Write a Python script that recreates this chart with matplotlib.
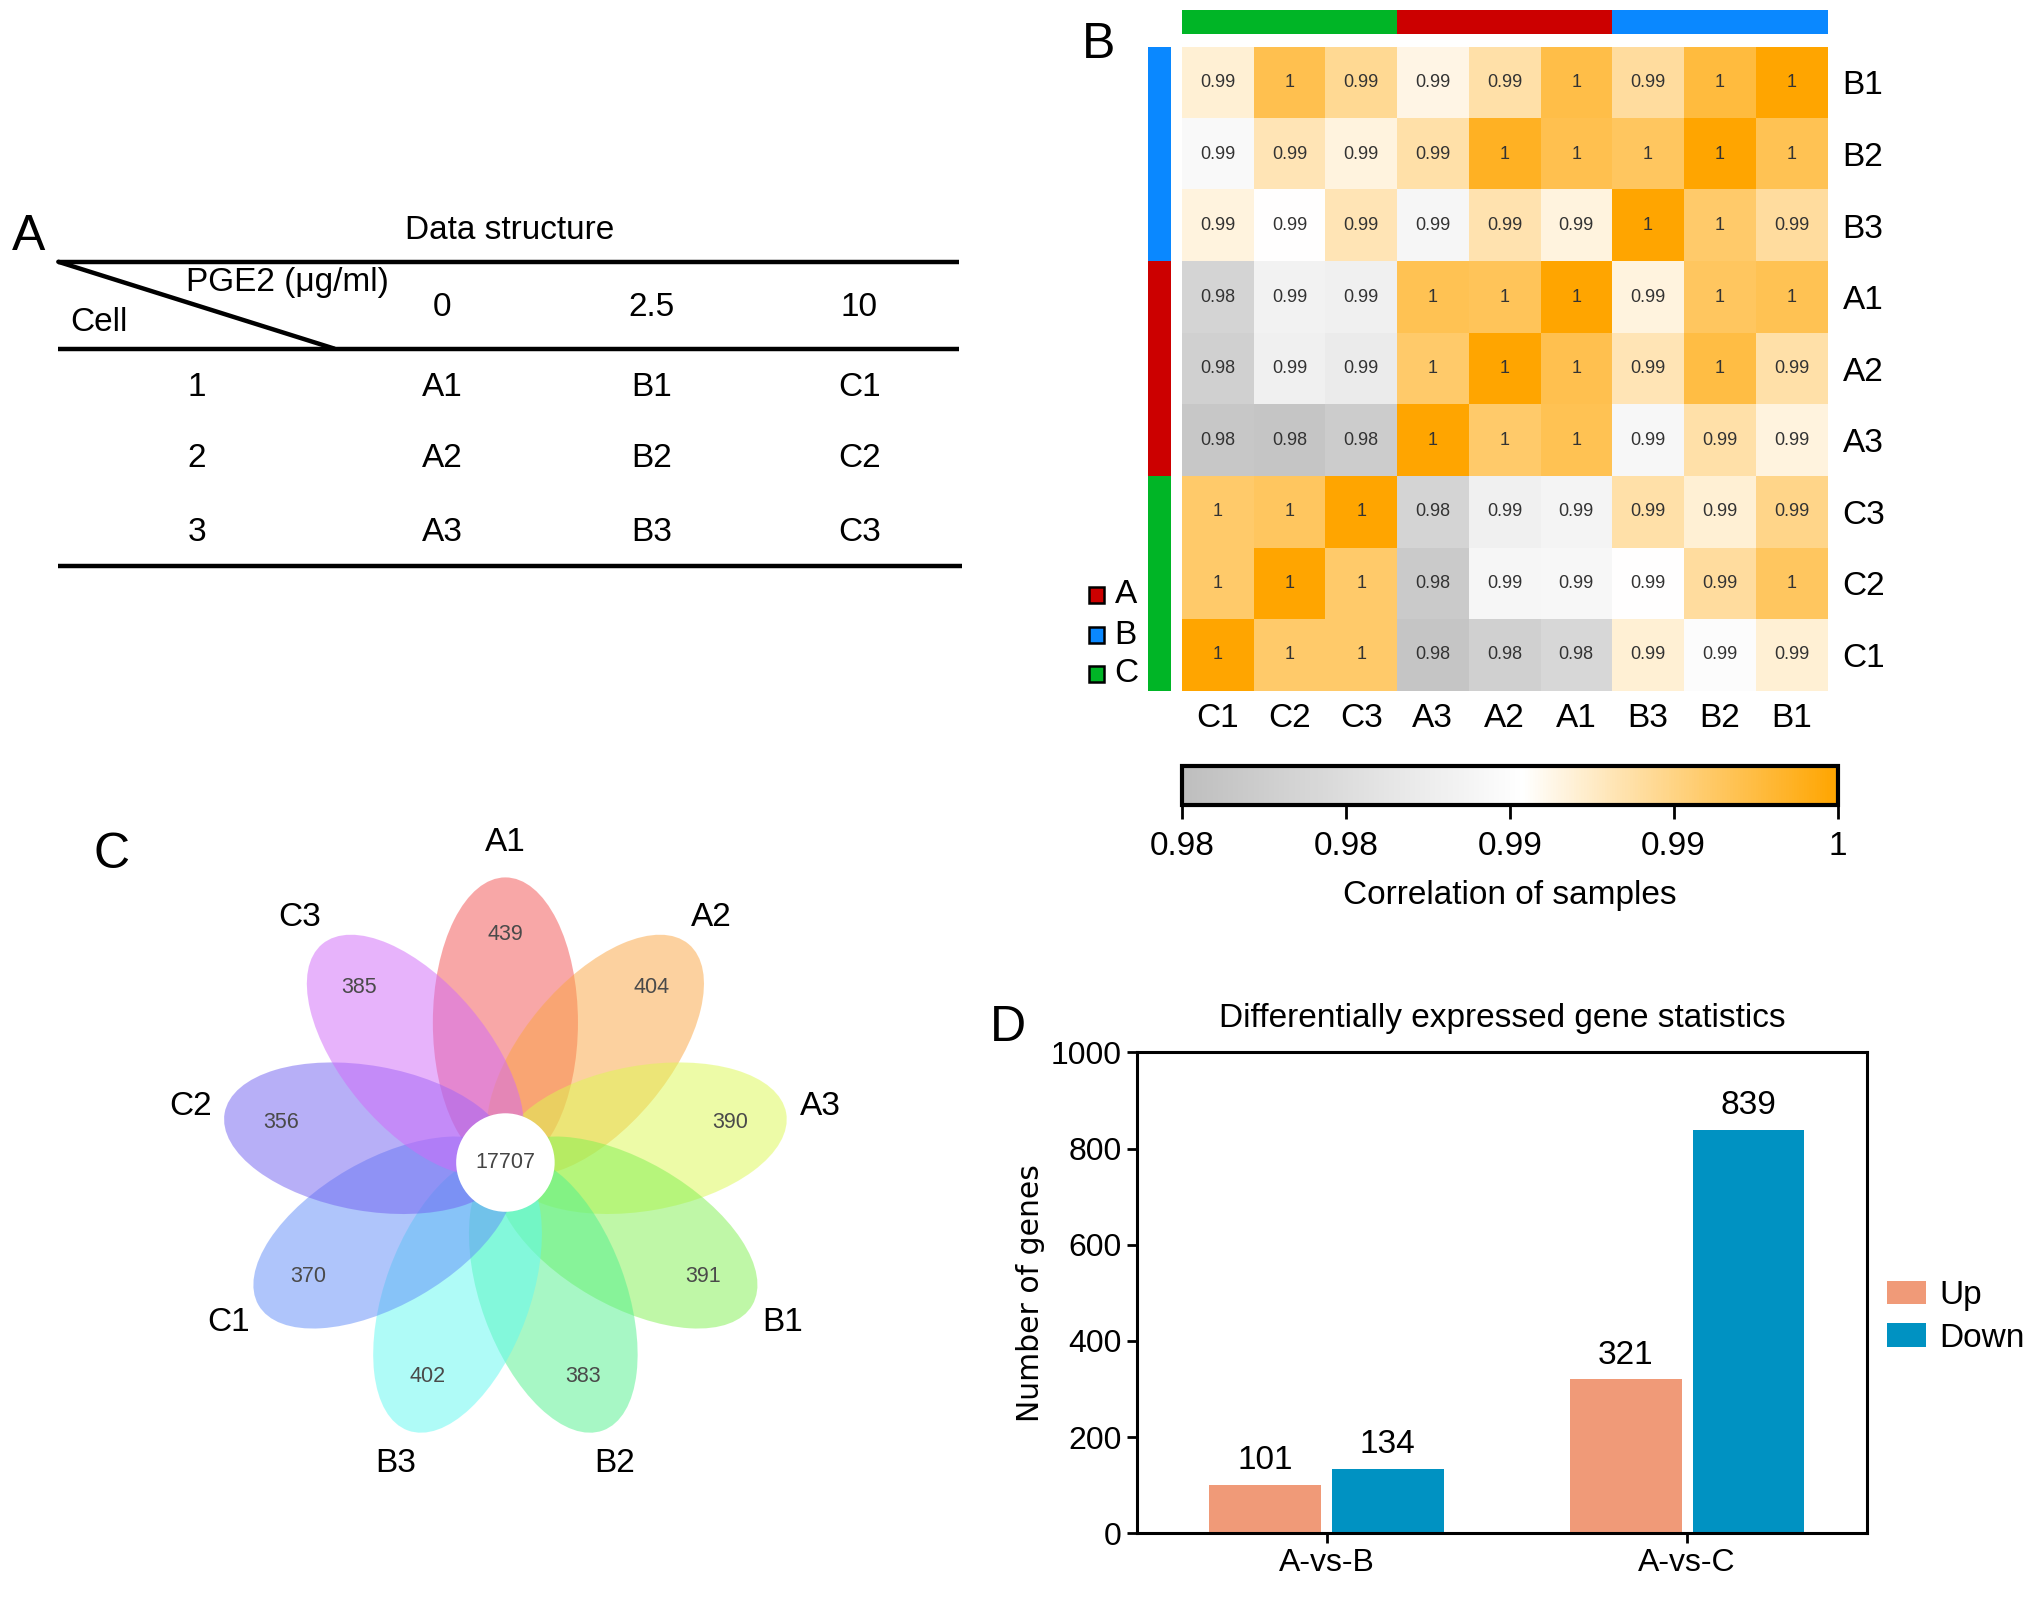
import numpy as np
import matplotlib
matplotlib.use('Agg')
import matplotlib.pyplot as plt
from matplotlib.colors import LinearSegmentedColormap
from matplotlib.patches import Ellipse, Circle, Rectangle, Patch

plt.rcParams['font.family'] = ['Liberation Sans', 'DejaVu Sans']

# ---- panel A: design table
doses = ['0', '2.5', '10']
replicates = ['1', '2', '3']
groups = ['A', 'B', 'C']

# ---- panel B: sample correlation
row_labels = ['B1', 'B2', 'B3', 'A1', 'A2', 'A3', 'C3', 'C2', 'C1']
col_labels = ['C1', 'C2', 'C3', 'A3', 'A2', 'A1', 'B3', 'B2', 'B1']
corr = [
    [0.9920, 0.9970, 0.9944, 0.9914, 0.9936, 0.9972, 0.9940, 0.9976, 1.0000],
    [0.9896, 0.9932, 0.9916, 0.9936, 0.9986, 0.9970, 0.9964, 1.0000, 0.9968],
    [0.9916, 0.9904, 0.9932, 0.9890, 0.9934, 0.9916, 1.0000, 0.9960, 0.9940],
    [0.9836, 0.9884, 0.9880, 0.9968, 0.9966, 1.0000, 0.9916, 0.9964, 0.9968],
    [0.9830, 0.9880, 0.9872, 0.9960, 1.0000, 0.9970, 0.9932, 0.9974, 0.9936],
    [0.9816, 0.9812, 0.9824, 1.0000, 0.9960, 0.9968, 0.9892, 0.9936, 0.9916],
    [0.9960, 0.9964, 1.0000, 0.9836, 0.9880, 0.9888, 0.9936, 0.9920, 0.9948],
    [0.9960, 1.0000, 0.9960, 0.9820, 0.9890, 0.9892, 0.9904, 0.9940, 0.9964],
    [1.0000, 0.9960, 0.9960, 0.9812, 0.9830, 0.9840, 0.9920, 0.9900, 0.9920],
]
cbar_ticks = [0.98, 0.985, 0.99, 0.995, 1.0]
cbar_ticklabels = ['0.98', '0.98', '0.99', '0.99', '1']
group_colors = {'A': '#cc0000', 'B': '#0a88ff', 'C': '#00b526'}

# ---- panel C: flower plot
petal_names = ['A1', 'A2', 'A3', 'B1', 'B2', 'B3', 'C1', 'C2', 'C3']
petal_counts = [439, 404, 390, 391, 383, 402, 370, 356, 385]
core_count = 17707
petal_colors = ['#f35151', '#fba541', '#ddf951', '#81f151', '#51f18d',
                '#61f9f1', '#618df9', '#7161f1', '#d169f9']

# ---- panel D: DEG counts
comparisons = ['A-vs-B', 'A-vs-C']
up_counts = [101, 321]
down_counts = [134, 839]


W, H = 1568.0, 1233.0  # layout grid (reference at reduced scale)


def fx(x):
    return x / W


def fy(y):
    return 1 - y / H


fig = plt.figure(figsize=(20.32, 15.98), dpi=100)

ov = fig.add_axes([0, 0, 1, 1])
ov.set_xlim(0, W)
ov.set_ylim(H, 0)
ov.axis('off')

# panel letters
for letter, (x, y) in zip('ABCD', [(22, 183), (848, 35), (86, 660), (778, 793)]):
    ov.text(x, y, letter, fontsize=36, ha='center', va='center')

# ---------------- panel A
lw_tab = 3.2
ov.text(393, 178, 'Data structure', fontsize=24, ha='center', va='center')
ov.plot([45, 740], [202, 202], color='black', lw=lw_tab, solid_capstyle='butt')
ov.plot([45, 740], [269, 269], color='black', lw=lw_tab, solid_capstyle='butt')
ov.plot([45, 742], [437, 437], color='black', lw=lw_tab, solid_capstyle='butt')
ov.plot([45, 258], [202, 269], color='black', lw=lw_tab, solid_capstyle='round')
ov.text(222, 218, 'PGE2 (\u03bcg/ml)', fontsize=24, ha='center', va='center')
ov.text(76, 249, 'Cell', fontsize=24, ha='center', va='center')
col_x = [341, 503, 663]
row_y = [299, 354, 411]
for cx, d in zip(col_x, doses):
    ov.text(cx, 237, d, fontsize=24, ha='center', va='center')
for ry, r in zip(row_y, replicates):
    ov.text(152, ry, r, fontsize=24, ha='center', va='center')
    for cx, g in zip(col_x, groups):
        ov.text(cx, ry, g + r, fontsize=24, ha='center', va='center')

# ---------------- panel B
cmap = LinearSegmentedColormap.from_list(
    'corr', [(0.0, '#bebebe'), (0.52, '#ffffff'), (1.0, '#ffa500')])
vals = np.array(corr)
hx0, hx1, hy0, hy1 = 912, 1410, 36, 533
axh = fig.add_axes([fx(hx0), fy(hy1), fx(hx1 - hx0), (hy1 - hy0) / H])
im = axh.imshow(vals, cmap=cmap, vmin=0.98, vmax=1.0, aspect='auto')
for i in range(vals.shape[0]):
    for j in range(vals.shape[1]):
        axh.text(j, i, '{:g}'.format(round(vals[i, j], 2)), ha='center',
                 va='center', fontsize=13, color='#333333')
axh.set_xticks(range(len(col_labels)))
axh.set_xticklabels(col_labels, fontsize=24)
axh.set_yticks(range(len(row_labels)))
axh.set_yticklabels(row_labels, fontsize=24)
axh.yaxis.tick_right()
axh.tick_params(axis='x', length=0, pad=9)
axh.tick_params(axis='y', length=0, pad=11)
for s in axh.spines.values():
    s.set_visible(False)

# annotation bars
axt = fig.add_axes([fx(hx0), fy(26), fx(hx1 - hx0), 18 / H])
axt.imshow([[matplotlib.colors.to_rgb(group_colors[c[0]]) for c in col_labels]],
           aspect='auto')
axt.axis('off')
axl = fig.add_axes([fx(886), fy(hy1), fx(17), (hy1 - hy0) / H])
axl.imshow([[matplotlib.colors.to_rgb(group_colors[r[0]])] for r in row_labels],
           aspect='auto')
axl.axis('off')

# group legend
for k, (g, y) in enumerate(zip(groups, [459, 490, 520])):
    ov.add_patch(Rectangle((840, y - 6), 12, 12, facecolor=group_colors[g],
                           edgecolor='black', lw=1.8))
    ov.text(860, y, g, fontsize=24, ha='left', va='center')

# colour bar
cax = fig.add_axes([fx(912), fy(621), fx(506), 30 / H])
cb = fig.colorbar(im, cax=cax, orientation='horizontal', ticks=cbar_ticks)
cb.set_ticklabels(cbar_ticklabels)
cb.outline.set_linewidth(3)
cax.tick_params(length=10, width=2, labelsize=24, pad=9)
cax.set_xlabel('Correlation of samples', fontsize=24, labelpad=13)

# ---------------- panel C
cxc, cyc = 390, 897
axc = fig.add_axes([fx(110), fy(1160), fx(560), 530 / H])
axc.set_xlim(-(cxc - 110), 670 - cxc)
axc.set_ylim(-(1160 - cyc), cyc - 630)
axc.axis('off')
n_pet = len(petal_names)
semi_a, semi_b, off = 112, 56, 108
for k, (name, cnt, col) in enumerate(zip(petal_names, petal_counts, petal_colors)):
    ang = 90 - k * 360.0 / n_pet
    t = np.deg2rad(ang)
    axc.add_patch(Ellipse((off * np.cos(t), off * np.sin(t)), 2 * semi_a,
                          2 * semi_b, angle=ang, facecolor=col, alpha=0.5,
                          edgecolor='none', zorder=1))
    axc.text(176 * np.cos(t), 176 * np.sin(t), str(cnt), fontsize=15.5,
             ha='center', va='center', color='#4a4a4a', zorder=3)
    axc.text(247 * np.cos(t), 247 * np.sin(t), name, fontsize=24,
             ha='center', va='center', zorder=3)
axc.add_patch(Circle((0, 0), 38, facecolor='white', edgecolor='none', zorder=4))
axc.text(0, 0, str(core_count), fontsize=15.5, ha='center', va='center',
         color='#444444', zorder=5)

# ---------------- panel D
axd = fig.add_axes([fx(877), fy(1183), fx(1441 - 877), (1183 - 812) / H])
x = np.arange(len(comparisons))
bw, sh = 0.31, 0.17
b_up = axd.bar(x - sh, up_counts, bw, color='#f09a78', label='Up')
b_dn = axd.bar(x + sh, down_counts, bw, color='#0092c2', label='Down')
for bars in (b_up, b_dn):
    for rect in bars:
        h = rect.get_height()
        axd.annotate(str(int(h)), (rect.get_x() + rect.get_width() / 2, h),
                     xytext=(0, 6), textcoords='offset points',
                     ha='center', va='bottom', fontsize=24)
axd.set_xlim(-0.527, 1.5)
axd.set_ylim(0, 1000)
axd.set_yticks(range(0, 1001, 200))
axd.set_xticks(x)
axd.set_xticklabels(comparisons)
axd.tick_params(length=7, width=2, labelsize=23)
for s in axd.spines.values():
    s.set_linewidth(2.2)
axd.set_title('Differentially expressed gene statistics', fontsize=24, pad=18)
axd.set_ylabel('Number of genes', fontsize=21.5, family='DejaVu Sans',
               labelpad=4)
axd.legend(loc='center left', bbox_to_anchor=(1.0, 0.45), frameon=False,
           fontsize=24, handlelength=1.15, handleheight=0.7,
           handletextpad=0.4, labelspacing=0.35, borderaxespad=0.2)

fig.savefig('out.png', dpi=100)
